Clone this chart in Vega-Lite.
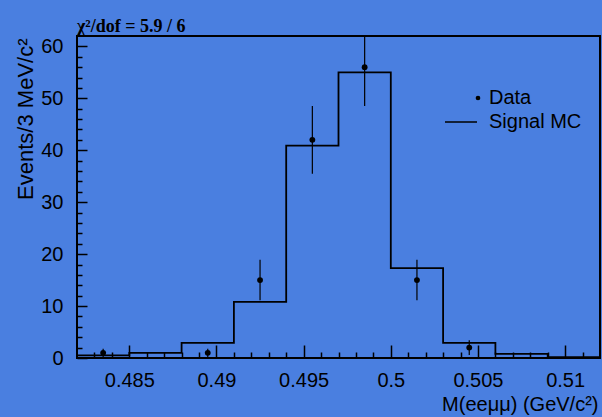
{
  "$schema": "https://vega.github.io/schema/vega-lite/v6.json",
  "width": 523,
  "height": 322,
  "autosize": {"type": "none"},
  "padding": {"left": 77, "top": 36, "right": 2, "bottom": 59},
  "background": "#4a7fe0",
  "config": {
    "view": {"stroke": "black", "strokeWidth": 2, "fill": "#4a7fe0"},
    "font": "Liberation Sans"
  },
  "title": {
    "text": "χ²/dof = 5.9 / 6",
    "anchor": "start",
    "frame": "group",
    "font": "Liberation Serif",
    "fontWeight": "bold",
    "fontSize": 18,
    "color": "black",
    "baseline": "alphabetic",
    "offset": 3,
    "dy": 17
  },
  "resolve": {"axis": {"x": "independent", "y": "independent"}},
  "datasets": {
    "mc": [
      {"lo": 0.482, "hi": 0.485, "y": 0.5, "series": "Signal MC"},
      {"lo": 0.485, "hi": 0.488, "y": 1.0, "series": "Signal MC"},
      {"lo": 0.488, "hi": 0.491, "y": 2.9, "series": "Signal MC"},
      {"lo": 0.491, "hi": 0.494, "y": 10.8, "series": "Signal MC"},
      {"lo": 0.494, "hi": 0.497, "y": 40.9, "series": "Signal MC"},
      {"lo": 0.497, "hi": 0.5, "y": 55.0, "series": "Signal MC"},
      {"lo": 0.5, "hi": 0.503, "y": 17.3, "series": "Signal MC"},
      {"lo": 0.503, "hi": 0.506, "y": 2.9, "series": "Signal MC"},
      {"lo": 0.506, "hi": 0.509, "y": 0.8, "series": "Signal MC"},
      {"lo": 0.509, "hi": 0.512, "y": 0.15, "series": "Signal MC"}
    ],
    "pts": [
      {"x": 0.4835, "y": 1, "elo": 0.2, "ehi": 1.8, "series": "Data"},
      {"x": 0.4895, "y": 1, "elo": 0.2, "ehi": 1.8, "series": "Data"},
      {"x": 0.4925, "y": 15, "elo": 11.1, "ehi": 18.9, "series": "Data"},
      {"x": 0.4955, "y": 42, "elo": 35.5, "ehi": 48.5, "series": "Data"},
      {"x": 0.4985, "y": 56, "elo": 48.5, "ehi": 63.5, "series": "Data"},
      {"x": 0.5015, "y": 15, "elo": 11.1, "ehi": 18.9, "series": "Data"},
      {"x": 0.5045, "y": 2, "elo": 0.6, "ehi": 3.4, "series": "Data"}
    ]
  },
  "layer": [
    {
      "data": {"name": "mc"},
      "transform": [{"fold": ["lo", "hi"], "as": ["side", "x"]}],
      "mark": {"type": "line", "strokeWidth": 1.8, "clip": true},
      "encoding": {
        "x": {
          "field": "x", "type": "quantitative",
          "scale": {"domain": [0.482, 0.512], "nice": false, "zero": false},
          "axis": {
            "orient": "bottom",
            "offset": -13,
            "title": "M(eeμμ) (GeV/c²)",
            "values": [0.485, 0.49, 0.495, 0.5, 0.505, 0.51],
            "format": ".3~f",
            "tickSize": 13,
            "tickColor": "black",
            "tickWidth": 1.5,
            "domain": false,
            "grid": false,
            "labelFont": "Liberation Sans",
            "labelFontSize": 20,
            "labelColor": "black",
            "labelBaseline": "top",
            "labelPadding": 12,
            "labelFlush": false,
            "labelOverlap": false,
            "titleFont": "Liberation Sans",
            "titleFontSize": 20,
            "titleFontWeight": "normal",
            "titleColor": "black",
            "titleAlign": "right",
            "titleBaseline": "alphabetic",
            "titleX": 521,
            "titleY": 65
          }
        },
        "y": {
          "field": "y", "type": "quantitative",
          "scale": {"domain": [0, 62], "nice": false, "zero": false},
          "axis": {
            "orient": "left",
            "offset": -10,
            "title": "Events/3 MeV/c²",
            "values": [0, 10, 20, 30, 40, 50, 60],
            "tickSize": 10,
            "tickColor": "black",
            "tickWidth": 1.5,
            "domain": false,
            "grid": false,
            "labelFont": "Liberation Sans",
            "labelFontSize": 20,
            "labelColor": "black",
            "labelPadding": 14,
            "labelFlush": false,
            "labelOverlap": false,
            "titleFont": "Liberation Sans",
            "titleFontSize": 22,
            "titleFontWeight": "normal",
            "titleColor": "black",
            "titleAlign": "right",
            "titleBaseline": "alphabetic",
            "titleX": -55,
            "titleY": 2
          }
        },
        "order": [{"field": "x", "type": "quantitative"}, {"field": "side", "sort": "ascending"}],
        "color": {
          "field": "series", "type": "nominal",
          "scale": {"domain": ["Data", "Signal MC"], "range": ["black", "black"]},
          "legend": {
            "orient": "none",
            "legendX": 368,
            "legendY": 52,
            "title": null,
            "labelFont": "Liberation Sans",
            "labelFontSize": 20,
            "labelColor": "black",
            "labelOffset": 24,
            "rowPadding": 4,
            "symbolSize": 1024,
            "symbolType": "stroke",
            "symbolStrokeWidth": 1.5,
            "encode": {
              "symbols": {
                "update": {
                  "shape": {"signal": "datum.label === 'Data' ? 'circle' : 'stroke'"},
                  "size": {"signal": "datum.label === 'Data' ? 22 : 1024"},
                  "fill": {"signal": "datum.label === 'Data' ? 'black' : 'transparent'"},
                  "stroke": {"value": "black"},
                  "strokeWidth": {"signal": "datum.label === 'Data' ? 0 : 1.5"},
                  "x": {"signal": "datum.label === 'Data' ? 33 : 16"}
                }
              }
            }
          }
        }
      }
    },
    {
      "data": {"name": "pts"},
      "mark": {"type": "rule", "strokeWidth": 1.2, "color": "black", "clip": true},
      "encoding": {
        "x": {
          "field": "x", "type": "quantitative",
          "axis": {
            "orient": "bottom",
            "offset": -6,
            "title": null,
            "values": [0.483, 0.484, 0.486, 0.487, 0.488, 0.489, 0.491, 0.492, 0.493, 0.494, 0.496, 0.497, 0.498, 0.499, 0.501, 0.502, 0.503, 0.504, 0.506, 0.507, 0.508, 0.509, 0.511],
            "labels": false,
            "tickSize": 6,
            "tickColor": "black",
            "tickWidth": 1.5,
            "domain": false,
            "grid": false
          }
        },
        "y": {
          "field": "elo", "type": "quantitative",
          "axis": {
            "orient": "left",
            "offset": -5,
            "title": null,
            "values": [2, 4, 6, 8, 12, 14, 16, 18, 22, 24, 26, 28, 32, 34, 36, 38, 42, 44, 46, 48, 52, 54, 56, 58],
            "labels": false,
            "tickSize": 5,
            "tickColor": "black",
            "tickWidth": 1.5,
            "domain": false,
            "grid": false
          }
        },
        "y2": {"field": "ehi"}
      }
    },
    {
      "data": {"name": "pts"},
      "mark": {"type": "point", "filled": true, "size": 34, "opacity": 1},
      "encoding": {
        "x": {"field": "x", "type": "quantitative", "axis": null},
        "y": {"field": "y", "type": "quantitative", "axis": null},
        "color": {"field": "series", "type": "nominal"}
      }
    },
    {
      "mark": {"type": "text", "text": "b)", "font": "Liberation Serif", "fontWeight": "bold", "fontSize": 22, "color": "black", "align": "left", "baseline": "middle"},
      "encoding": {
        "x": {"datum": 0.48305, "axis": null},
        "y": {"datum": 52, "axis": null}
      }
    }
  ]
}
